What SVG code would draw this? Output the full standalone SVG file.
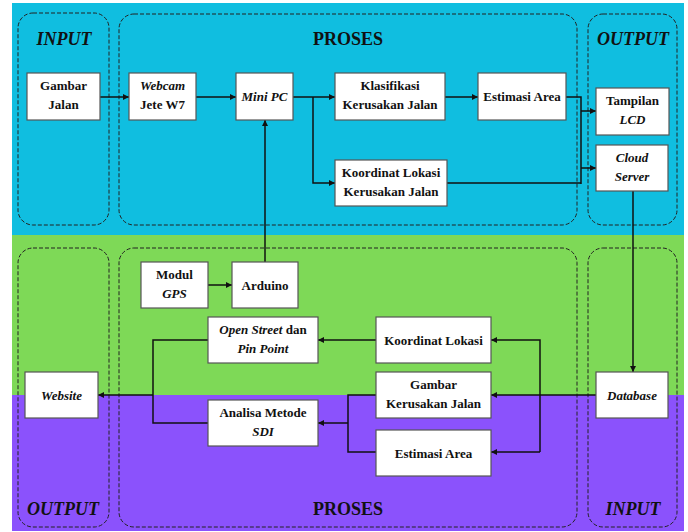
<svg xmlns="http://www.w3.org/2000/svg" width="688" height="532" viewBox="0 0 688 532">
<style>
.bg{stroke:none}
.grp{fill:none;stroke:#222;stroke-width:1;stroke-dasharray:4 2}
.box{fill:#fff;stroke:#555;stroke-width:1.2}
.t{font-family:"Liberation Serif","Times New Roman",serif;font-weight:bold;font-size:13px;fill:#111;text-anchor:middle}
.h{font-family:"Liberation Serif","Times New Roman",serif;font-weight:bold;font-size:18px;fill:#111;text-anchor:middle}
.i{font-style:italic}
.c{fill:none;stroke:#111;stroke-width:1.5}
.a{marker-end:url(#arr)}
</style>
<defs>
<marker id="arr" markerUnits="userSpaceOnUse" markerWidth="7" markerHeight="7" refX="6" refY="3" orient="auto">
<path d="M0,0 L6,3 L0,6 z" fill="#111"/>
</marker>
</defs>
<g id="background">
<rect class="bg" x="12" y="3" width="672" height="232" fill="#10bee0"/>
<rect class="bg" x="12" y="235" width="672" height="160" fill="#7ed957"/>
<rect class="bg" x="12" y="395" width="672" height="136" fill="#8b52fc"/>
</g>
<g id="groups">
<rect class="grp" x="18" y="13" width="91" height="212" rx="15"/>
<rect class="grp" x="119" y="14" width="458" height="211" rx="15"/>
<rect class="grp" x="588" y="14" width="89" height="211" rx="15"/>
<rect class="grp" x="18" y="248" width="91" height="279" rx="15"/>
<rect class="grp" x="119" y="248" width="458" height="279" rx="15"/>
<rect class="grp" x="588" y="248" width="89" height="279" rx="15"/>
<text class="h i" x="64" y="45">INPUT</text>
<text class="h" x="348" y="45">PROSES</text>
<text class="h i" x="633" y="45">OUTPUT</text>
<text class="h i" x="63" y="515">OUTPUT</text>
<text class="h" x="348" y="515">PROSES</text>
<text class="h i" x="633" y="515">INPUT</text>
</g>
<g id="connectors">
<path class="c a" d="M100,97 H129"/>
<path class="c a" d="M196,97 H236"/>
<path class="c a" d="M293,97 H335"/>
<path class="c a" d="M313,97 V183 H335"/>
<path class="c a" d="M445,97 H478"/>
<path class="c" d="M566,97 H581 V184"/>
<path class="c" d="M447,183 H581"/>
<path class="c a" d="M581,111 H596"/>
<path class="c a" d="M581,168 H596"/>
<path class="c a" d="M265,262 V120"/>
<path class="c a" d="M633,191 V372"/>
<path class="c a" d="M208,285 H232"/>
<path class="c a" d="M596,395 H491"/>
<path class="c a" d="M540,452 V340 H491"/>
<path class="c a" d="M540,452 H491"/>
<path class="c a" d="M376,340 H318"/>
<path class="c" d="M376,395 H348 V452 H376"/>
<path class="c a" d="M348,423 H318"/>
<path class="c" d="M208,340 H153 V423 H208"/>
<path class="c a" d="M153,395 H98"/>
</g>
<g id="gambar-jalan"><rect class="box" x="27" y="73" width="73" height="47"/><text class="t" x="63.5" y="90">Gambar</text><text class="t" x="63.5" y="109">Jalan</text></g>
<g id="webcam"><rect class="box" x="129" y="73" width="67" height="47"/><text class="t i" x="162.5" y="90">Webcam</text><text class="t" x="162.5" y="109">Jete W7</text></g>
<g id="mini-pc"><rect class="box" x="236" y="73" width="57" height="47"/><text class="t i" x="264.5" y="101">Mini PC</text></g>
<g id="klasifikasi"><rect class="box" x="335" y="73" width="110" height="47"/><text class="t" x="390" y="90">Klasifikasi</text><text class="t" x="390" y="109">Kerusakan Jalan</text></g>
<g id="estimasi-area-top"><rect class="box" x="478" y="73" width="88" height="47"/><text class="t" x="522" y="101">Estimasi Area</text></g>
<g id="koordinat-top"><rect class="box" x="335" y="160" width="112" height="46"/><text class="t" x="391" y="177">Koordinat Lokasi</text><text class="t" x="391" y="196">Kerusakan Jalan</text></g>
<g id="tampilan-lcd"><rect class="box" x="596" y="88" width="73" height="47"/><text class="t" x="632.5" y="105">Tampilan</text><text class="t i" x="632.5" y="124">LCD</text></g>
<g id="cloud-server"><rect class="box" x="596" y="145" width="72" height="46"/><text class="t i" x="632" y="162">Cloud</text><text class="t i" x="632" y="181">Server</text></g>
<g id="modul-gps"><rect class="box" x="141" y="262" width="67" height="46"/><text class="t" x="174.5" y="279">Modul</text><text class="t i" x="174.5" y="298">GPS</text></g>
<g id="arduino"><rect class="box" x="232" y="262" width="66" height="46"/><text class="t" x="265" y="290">Arduino</text></g>
<g id="open-street"><rect class="box" x="208" y="317" width="110" height="46"/><text class="t" x="263" y="334"><tspan class="i">Open Street</tspan> dan</text><text class="t i" x="263" y="353">Pin Point</text></g>
<g id="koordinat-bottom"><rect class="box" x="376" y="317" width="115" height="46"/><text class="t" x="433.5" y="345">Koordinat Lokasi</text></g>
<g id="gambar-kerusakan"><rect class="box" x="376" y="372" width="115" height="46"/><text class="t" x="433.5" y="389">Gambar</text><text class="t" x="433.5" y="408">Kerusakan Jalan</text></g>
<g id="estimasi-area-bottom"><rect class="box" x="376" y="430" width="115" height="46"/><text class="t" x="433.5" y="458">Estimasi Area</text></g>
<g id="analisa"><rect class="box" x="208" y="400" width="110" height="46"/><text class="t" x="263" y="417">Analisa Metode</text><text class="t i" x="263" y="436">SDI</text></g>
<g id="website"><rect class="box" x="25" y="372" width="73" height="46"/><text class="t i" x="61.5" y="400">Website</text></g>
<g id="database"><rect class="box" x="596" y="372" width="72" height="46"/><text class="t i" x="632" y="400">Database</text></g>
</svg>
